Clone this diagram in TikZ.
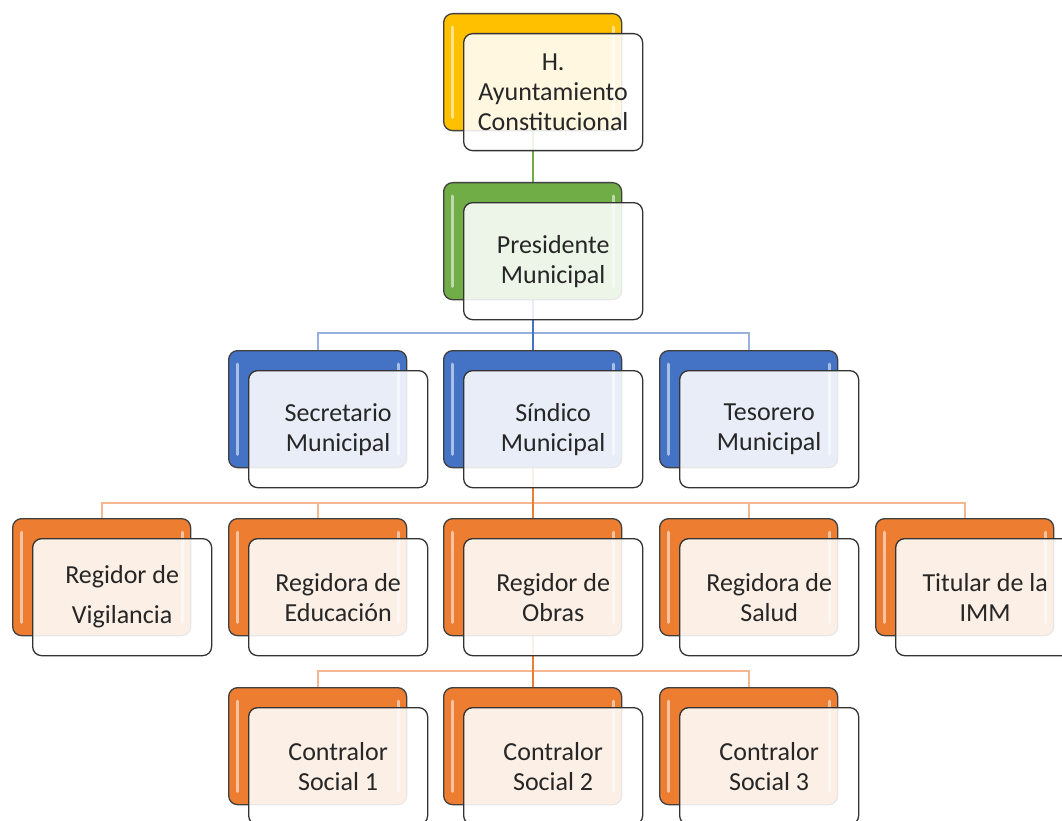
\documentclass[tikz,border=0pt]{standalone}
\usepackage{fontspec}
\setmainfont{Carlito}
\usetikzlibrary{calc,backgrounds}
\definecolor{orgyellow}{HTML}{FFC000}
\definecolor{orggreen}{HTML}{70AD47}
\definecolor{orgblue}{HTML}{4472C4}
\definecolor{orgorange}{HTML}{ED7D31}
\tikzset{
  backbox/.style={draw=black!75, line width=1.3pt, rounded corners=9pt,
    minimum width=178pt, minimum height=117pt, inner sep=0pt, fill=#1},
  frontbox/.style={draw=black!80, line width=1.3pt, rounded corners=9pt,
    minimum width=179pt, minimum height=117pt, inner sep=0pt,
    fill=white, fill opacity=0.88, text opacity=1, align=center,
    font=\fontsize{26}{30}\selectfont, text=black!85},
  gloss/.style={white, opacity=0.55, line width=3pt, line cap=round},
  link/.style={line width=2pt, draw=#1},
  bus/.style={line width=2pt, draw=#1!55},
}
% name, x, y of the coloured card, colour, text
\newcommand{\orgbox}[5]{%
  \node[backbox=#4, anchor=north west] (#1-b) at (#2,#3) {};
  \draw[gloss] ($(#1-b.north west)+(9,14)$) -- ($(#1-b.south west)+(9,-14)$);
  \draw[gloss] ($(#1-b.north east)+(-9,14)$) -- ($(#1-b.south east)+(-9,-14)$);
  \node[frontbox, anchor=north west] (#1) at (#2+20,#3+20) {#5};
}
\begin{document}
\begin{tikzpicture}[x=1pt, y=-1pt]
  \useasboundingbox (0,0) rectangle (1062,821);
  % level 1 and 2
  \orgbox{ayto}{443}{13}{orgyellow}{H.\\Ayuntamiento\\Constitucional}
  \orgbox{pres}{443}{182}{orggreen}{Presidente\\Municipal}
  % level 3
  \orgbox{secr}{228}{350}{orgblue}{Secretario\\Municipal}
  \orgbox{sind}{443}{350}{orgblue}{Síndico\\Municipal}
  \orgbox{teso}{659}{350}{orgblue}{Tesorero\\Municipal}
  % level 4
  \orgbox{vigi}{12}{518}{orgorange}{Regidor de\\[10pt]Vigilancia}
  \orgbox{educ}{228}{518}{orgorange}{Regidora de\\Educación}
  \orgbox{obra}{443}{518}{orgorange}{Regidor de\\Obras}
  \orgbox{salu}{659}{518}{orgorange}{Regidora de\\Salud}
  \orgbox{titu}{875}{518}{orgorange}{Titular de la\\IMM}
  % level 5
  \orgbox{cso1}{228}{687}{orgorange}{Contralor\\Social 1}
  \orgbox{cso2}{443}{687}{orgorange}{Contralor\\Social 2}
  \orgbox{cso3}{659}{687}{orgorange}{Contralor\\Social 3}
  % connectors
  \begin{scope}[on background layer]
    \draw[link=orggreen] (ayto-b.south) -- (pres-b.north);
    \draw[bus=orgblue] (secr-b.north) -- ++(0,-17) -| (teso-b.north);
    \draw[bus=orgblue] (sind-b.north) -- ++(0,-17);
    \draw[link=orgblue] (pres-b.south) -- (sind-b.north);
    \draw[bus=orgorange] (vigi-b.north) -- ++(0,-15) -| (titu-b.north);
    \draw[bus=orgorange] (educ-b.north) -- ++(0,-15);
    \draw[bus=orgorange] (salu-b.north) -- ++(0,-15);
    \draw[link=orgorange] (sind-b.south) -- (obra-b.north);
    \draw[bus=orgorange] (cso1-b.north) -- ++(0,-16) -| (cso3-b.north);
    \draw[link=orgorange] (obra-b.south) -- (cso2-b.north);
  \end{scope}
\end{tikzpicture}
\end{document}
